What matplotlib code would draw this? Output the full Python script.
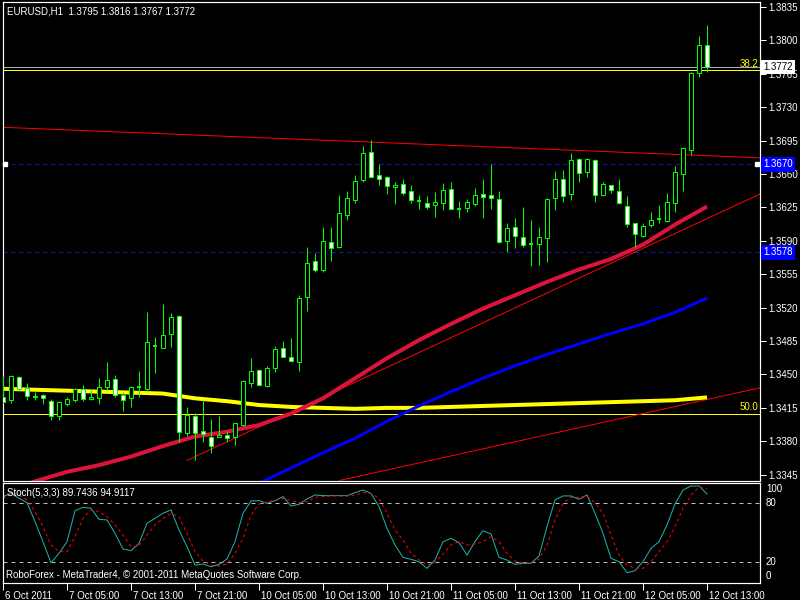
import matplotlib
matplotlib.use("Agg")
import matplotlib.pyplot as plt
from matplotlib.patches import Rectangle
import matplotlib.transforms as mtransforms

plt.rcParams['font.family'] = ['Liberation Sans', 'DejaVu Sans']

# EURUSD H1 candles, 6 Oct 21:00 .. 12 Oct 13:00 (89 bars)
opens = [1.3426, 1.3423, 1.3447, 1.3436, 1.3427, 1.3428, 1.3422, 1.3407, 1.3419, 1.3423,
         1.3435, 1.3424, 1.3425, 1.3437, 1.3445, 1.3429, 1.3425, 1.3437, 1.3435, 1.3480,
         1.3478, 1.3492, 1.3511, 1.3389, 1.3407, 1.3391, 1.3385, 1.3385, 1.3387, 1.3384,
         1.3397, 1.3441, 1.3455, 1.3438, 1.3457, 1.3478, 1.3468, 1.3463, 1.3531, 1.3569,
         1.3559, 1.3589, 1.3584, 1.3617, 1.3633, 1.3654, 1.3683, 1.3659, 1.3657, 1.3646,
         1.3650, 1.3642, 1.3632, 1.3630, 1.3628, 1.3630, 1.3644, 1.3623, 1.3624, 1.3629,
         1.3639, 1.3638, 1.3634, 1.3590, 1.3604, 1.3594, 1.3587, 1.3587, 1.3593, 1.3635,
         1.3655, 1.3639, 1.3676, 1.3662, 1.3675, 1.3638, 1.3648, 1.3642, 1.3627, 1.3609,
         1.3595, 1.3607, 1.3613, 1.3611, 1.3630, 1.3660, 1.3685, 1.3766, 1.3795]
highs = [1.3448, 1.3449, 1.3448, 1.3441, 1.3432, 1.3430, 1.3424, 1.3422, 1.3426, 1.3436,
         1.3439, 1.3434, 1.3446, 1.3463, 1.3449, 1.3432, 1.3438, 1.3454, 1.3515, 1.3489,
         1.3524, 1.3514, 1.3512, 1.3416, 1.3410, 1.3423, 1.3403, 1.3407, 1.3391, 1.3399,
         1.3444, 1.3467, 1.3456, 1.3459, 1.3480, 1.3485, 1.3488, 1.3533, 1.3584, 1.3577,
         1.3604, 1.3604, 1.3638, 1.3642, 1.3659, 1.3689, 1.3696, 1.3671, 1.3658, 1.3652,
         1.3655, 1.3648, 1.3638, 1.3637, 1.3641, 1.3651, 1.3652, 1.3632, 1.3634, 1.3645,
         1.3655, 1.3671, 1.3642, 1.3609, 1.3614, 1.3625, 1.3612, 1.3604, 1.3635, 1.3663,
         1.3664, 1.3682, 1.3677, 1.3677, 1.3676, 1.3652, 1.3649, 1.3655, 1.3637, 1.3609,
         1.3609, 1.3620, 1.3628, 1.3640, 1.3668, 1.3688, 1.3767, 1.3805, 1.3816]
lows = [1.3420, 1.3420, 1.3434, 1.3423, 1.3423, 1.3419, 1.3402, 1.3402, 1.3417, 1.3421,
        1.3422, 1.3423, 1.3419, 1.3434, 1.3426, 1.3412, 1.3416, 1.3426, 1.3432, 1.3452,
        1.3478, 1.3479, 1.3379, 1.3386, 1.3360, 1.3379, 1.3368, 1.3384, 1.3379, 1.3376,
        1.3396, 1.3437, 1.3438, 1.3437, 1.3453, 1.3468, 1.3463, 1.3454, 1.3517, 1.3557,
        1.3557, 1.3569, 1.3583, 1.3612, 1.3630, 1.3652, 1.3656, 1.3648, 1.3639, 1.3629,
        1.3638, 1.3630, 1.3623, 1.3623, 1.3615, 1.3622, 1.3623, 1.3614, 1.3620, 1.3626,
        1.3614, 1.3623, 1.3588, 1.3578, 1.3582, 1.3584, 1.3564, 1.3565, 1.3568, 1.3622,
        1.3631, 1.3633, 1.3652, 1.3657, 1.3631, 1.3637, 1.3640, 1.3629, 1.3604, 1.3584,
        1.3594, 1.3605, 1.3609, 1.3610, 1.3620, 1.3642, 1.3680, 1.3762, 1.3767]
closes = [1.3421, 1.3448, 1.3435, 1.3427, 1.3426, 1.3425, 1.3407, 1.3421, 1.3424, 1.3435,
          1.3424, 1.3426, 1.3437, 1.3444, 1.3428, 1.3423, 1.3437, 1.3437, 1.3484, 1.3480,
          1.3491, 1.3510, 1.3390, 1.3408, 1.3389, 1.3388, 1.3375, 1.3387, 1.3383, 1.3399,
          1.3443, 1.3454, 1.3439, 1.3457, 1.3477, 1.3468, 1.3464, 1.3530, 1.3567, 1.3559,
          1.3590, 1.3583, 1.3619, 1.3635, 1.3653, 1.3682, 1.3657, 1.3655, 1.3647, 1.3649,
          1.3640, 1.3633, 1.3632, 1.3625, 1.3631, 1.3643, 1.3623, 1.3623, 1.3631, 1.3638,
          1.3636, 1.3635, 1.3589, 1.3603, 1.3595, 1.3586, 1.3587, 1.3594, 1.3634, 1.3655,
          1.3637, 1.3675, 1.3661, 1.3676, 1.3638, 1.3650, 1.3643, 1.3630, 1.3608, 1.3597,
          1.3606, 1.3612, 1.3613, 1.3631, 1.3662, 1.3687, 1.3766, 1.3795, 1.3772]

# moving averages read every 4 bars
ma_bars = [0, 4, 8, 12, 16, 20, 24, 28, 32, 36, 40, 44, 48, 52, 56, 60, 64, 68, 72, 76, 80, 84, 88]
ma_red = [1.3325, 1.3338, 1.3348, 1.3355, 1.3364, 1.3375, 1.3385, 1.3390, 1.3397, 1.3409, 1.3425, 1.3446,
          1.3467, 1.3486, 1.3503, 1.3519, 1.3533, 1.3547, 1.3560, 1.3571, 1.3586, 1.3607, 1.3626]
ma_yellow = [1.3435, 1.3434, 1.3433, 1.3432, 1.3431, 1.3430, 1.3425, 1.3422, 1.3418, 1.3416, 1.3415, 1.3414,
             1.3415, 1.3415, 1.3416, 1.3417, 1.3418, 1.3419, 1.3420, 1.3421, 1.3422, 1.3423, 1.3426]
blue_bars = [32, 36, 40, 44, 48, 52, 56, 60, 64, 68, 72, 76, 80, 84, 88]
ma_blue = [1.3336, 1.3352, 1.3368, 1.3383, 1.3401, 1.3417, 1.3432, 1.3446, 1.3459, 1.3471, 1.3482,
           1.3493, 1.3503, 1.3515, 1.3530]

# hand-drawn trendlines: (bar, price) pairs
trend_down = ([-0.125, 94.6], [1.3709, 1.3677])
trend_support = ([23, 94.6], [1.3360, 1.3639])
trend_lower = ([42.1, 94.6], [1.3339, 1.3436])

fib_levels = [1.3769, 1.3409]
fib_labels = ["38.2", "50.0"]
hlines_blue = [1.3670, 1.3578]
bid = 1.3772

price_ticks = [1.3835, 1.3800, 1.3765, 1.3730, 1.3695, 1.3660, 1.3625, 1.3590, 1.3555,
               1.3520, 1.3485, 1.3450, 1.3415, 1.3380, 1.3345]

stoch_main = [86.9, 90.3, 85.2, 80.7, 61.2, 40.6, 19.0, 28.6, 40.6, 72.5,
              75.9, 74.9, 63.6, 62.9, 49.2, 33.1, 31.4, 38.9, 59.5, 64.6,
              69.8, 73.2, 52.6, 35.5, 16.6, 17.7, 14.9, 17.3, 22.8, 40.6,
              69.8, 82.4, 82.8, 80.0, 82.8, 86.9, 77.3, 79.0, 84.5, 88.6,
              87.9, 87.9, 87.9, 87.9, 91.0, 93.7, 90.3, 76.6, 54.3, 37.2,
              24.5, 22.5, 20.1, 13.2, 21.8, 40.6, 44.1, 39.6, 26.9, 40.6,
              51.9, 48.5, 24.5, 21.8, 17.3, 18.4, 18.4, 25.9, 56.0, 83.5,
              87.6, 87.6, 84.1, 88.6, 69.8, 49.2, 23.5, 20.1, 8.8, 10.8,
              20.1, 33.8, 40.6, 57.8, 79.3, 93.7, 97.8, 97.8, 89.7]
stoch_signal = [85.2, 90.3, 88.6, 83.5, 71.5, 56.0, 37.2, 30.4, 30.4, 45.8,
                64.6, 73.2, 71.5, 66.3, 57.8, 47.5, 35.5, 36.2, 47.5, 57.8,
                64.6, 69.8, 66.3, 49.2, 30.4, 20.8, 16.6, 15.6, 17.7, 28.6,
                44.1, 68.0, 79.3, 81.7, 82.8, 85.2, 82.8, 80.7, 81.7, 86.2,
                86.9, 87.6, 87.6, 87.6, 88.6, 91.0, 90.3, 85.2, 69.8, 52.6,
                42.3, 28.6, 21.8, 16.6, 19.0, 28.0, 37.2, 40.6, 37.2, 38.2,
                40.6, 45.8, 40.6, 28.6, 20.8, 19.0, 19.0, 22.5, 37.2, 62.9,
                80.0, 86.2, 86.2, 87.6, 80.7, 69.8, 47.5, 26.9, 16.6, 13.2,
                13.2, 20.1, 30.4, 40.6, 56.0, 74.9, 88.6, 96.5, 94.9]
stoch_levels = [20, 80]

time_ticks = [0, 8, 16, 24, 32, 40, 48, 56, 64, 72, 80, 88]
time_labels = ["6 Oct 2011", "7 Oct 05:00", "7 Oct 13:00", "7 Oct 21:00", "10 Oct 05:00",
               "10 Oct 13:00", "10 Oct 21:00", "11 Oct 05:00", "11 Oct 13:00", "11 Oct 21:00",
               "12 Oct 05:00", "12 Oct 13:00"]

W, H = 800, 600
GREEN = "#00ff00"
FS = 7
PX = 0.72  # one pixel in points

fig = plt.figure(figsize=(8, 6), dpi=100, facecolor="black")
ax = fig.add_axes([2.5 / W, 119 / H, 757.5 / W, 479 / H], facecolor="black")
ax2 = fig.add_axes([2.5 / W, 17.5 / H, 757.5 / W, 99.5 / H], facecolor="black")

for a in (ax, ax2):
    a.set_xlim(-0.0625, 94.625)
    for s in a.spines.values():
        s.set_color("white")
        s.set_linewidth(1.2 * PX)
ax.set_ylim(1.333839, 1.384024)
ax2.set_ylim(-1.3, 100.9)

# --- main window ---
for y in hlines_blue:
    ax.axhline(y, color="#1414c8", lw=PX, ls=(0, (4, 4)), zorder=1)
ax.axhline(bid, color="#b0b0b0", lw=PX, zorder=1)
for y, lab in zip(fib_levels, fib_labels):
    ax.axhline(y, color="yellow", lw=PX, zorder=1)
    ax.text(94.45, y + 0.00012, lab, color="yellow", fontsize=FS, ha="right", va="bottom", zorder=6)

for xs, ys in (trend_down, trend_support, trend_lower):
    ax.plot(xs, ys, color="red", lw=PX, zorder=2)

ax.plot(ma_bars, ma_yellow, color="yellow", lw=4 * PX, zorder=2, solid_capstyle="butt")
ax.plot(blue_bars, ma_blue, color="#0000ff", lw=3 * PX, zorder=2, solid_capstyle="butt")
ax.plot(ma_bars, ma_red, color="#dc143c", lw=4 * PX, zorder=2, solid_capstyle="butt")

bw = 0.6
for i, (o, h, l, c) in enumerate(zip(opens, highs, lows, closes)):
    ax.vlines(i, l, h, color=GREEN, lw=PX, zorder=3)
    if abs(c - o) < 0.00005:
        ax.hlines(o, i - bw / 2, i + bw / 2, color=GREEN, lw=2 * PX, zorder=4)
    else:
        face = "white" if c < o else "black"
        ax.add_patch(Rectangle((i - bw / 2, min(o, c)), bw, abs(c - o),
                               facecolor=face, edgecolor=GREEN, lw=PX, zorder=4))

ax.plot([0.31, 94.3], [hlines_blue[0]] * 2, ls="none", marker="s", ms=3,
        color="white", zorder=6, clip_on=False)

ax.yaxis.tick_right()
ax.set_yticks(price_ticks)
ax.set_yticklabels([f"{p:.4f}" for p in price_ticks])
ax.tick_params(axis="y", colors="white", labelsize=FS, length=4, width=PX, pad=2)
ax.set_xticks([])

trans = mtransforms.blended_transform_factory(ax.transAxes, ax.transData)
for y in hlines_blue:
    ax.text(1.004, y, f"{y:.4f}", transform=trans, color="white", fontsize=FS, va="center",
            ha="left", bbox=dict(facecolor="#0000ff", edgecolor="none", pad=1.6), zorder=7)
ax.text(1.004, bid, f"{bid:.4f}", transform=trans, color="black", fontsize=FS, va="center",
        ha="left", bbox=dict(facecolor="white", edgecolor="none", pad=1.6), zorder=7)

# --- stochastic window ---
for lv in stoch_levels:
    ax2.axhline(lv, color="#c0c0c0", lw=PX, ls=(0, (4, 4)))
bars = list(range(len(stoch_main)))
ax2.plot(bars, stoch_main, color="#20b2aa", lw=PX)
ax2.plot(bars, stoch_signal, color="red", lw=PX, ls=(0, (3, 3)))

ax2.set_yticks([])
trans2 = mtransforms.blended_transform_factory(ax2.transAxes, ax2.transData)
for v, va in ((100, "top"), (80, "center"), (20, "center"), (0, "bottom")):
    ax2.text(1.008, v, str(v), transform=trans2, color="white", fontsize=FS, va=va, ha="left")

ax2.set_xticks(time_ticks)
ax2.set_xticklabels(time_labels)
ax2.tick_params(axis="x", colors="white", labelsize=FS, length=5, width=PX, pad=1)
offset = mtransforms.ScaledTranslation(2 / 100, 0, fig.dpi_scale_trans)
for lab in ax2.get_xticklabels():
    lab.set_ha("left")
    lab.set_transform(lab.get_transform() + offset)

fig.text(7 / W, 1 - 11 / H, "EURUSD,H1  1.3795 1.3816 1.3767 1.3772", color="white",
         fontsize=FS, va="center", ha="left")
fig.text(7 / W, 1 - 492.5 / H, "Stoch(5,3,3) 89.7436 94.9117", color="white",
         fontsize=FS, va="center", ha="left")
fig.text(6 / W, 1 - 575 / H, "RoboForex - MetaTrader4, \u00a9 2001-2011 MetaQuotes Software Corp.",
         color="white", fontsize=FS, va="center", ha="left")

fig.savefig("out.png", dpi=100, facecolor="black")
